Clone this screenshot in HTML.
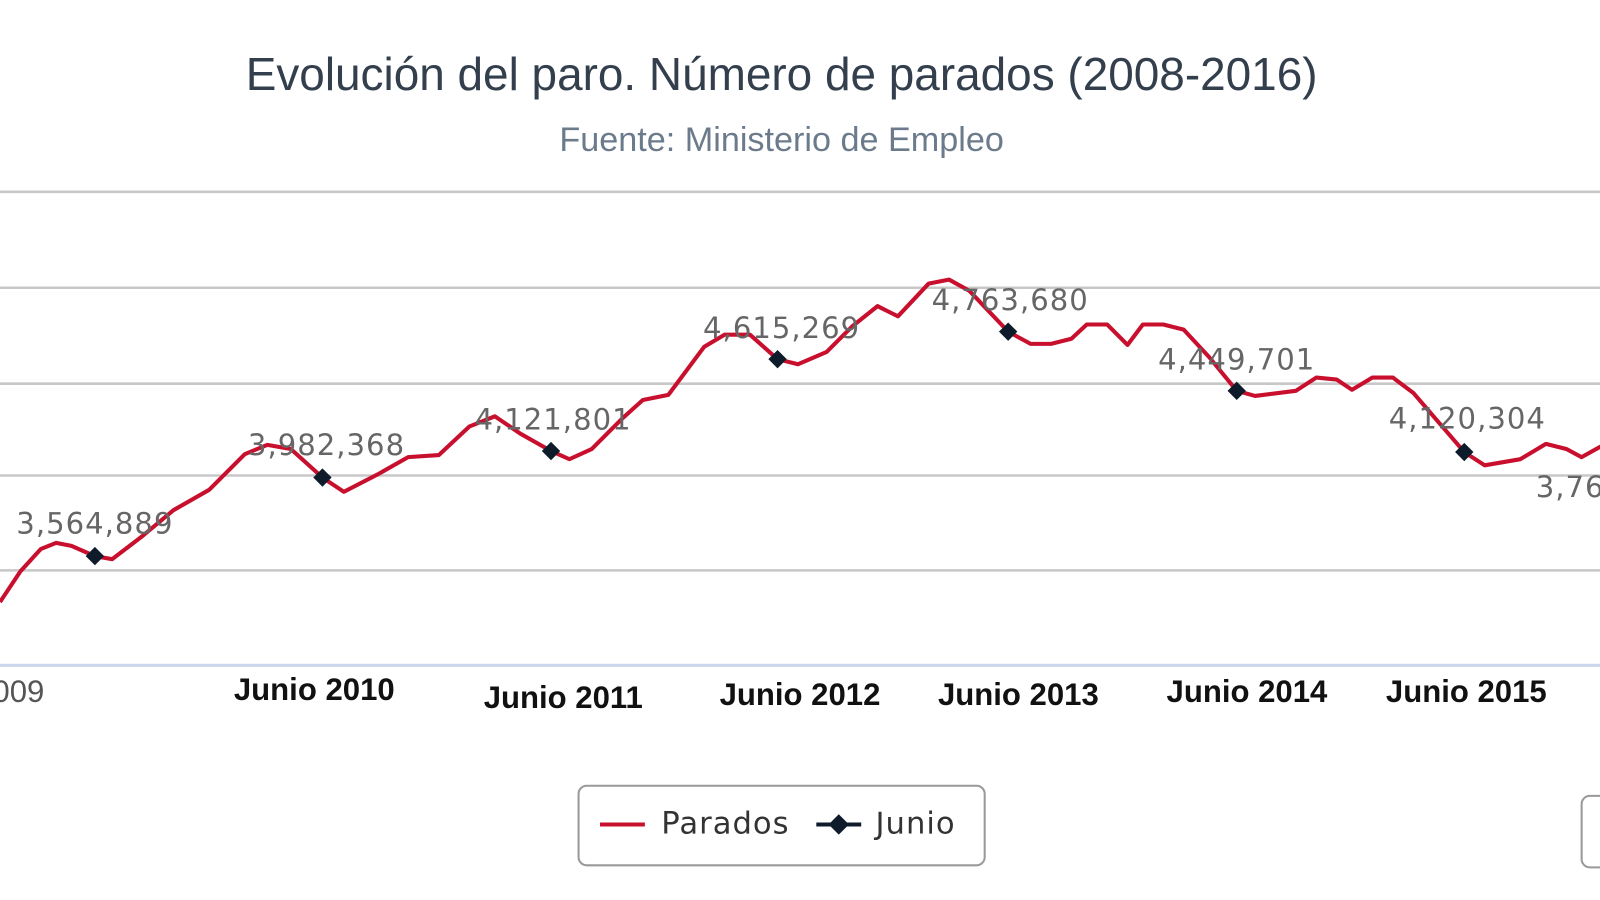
<!DOCTYPE html>
<html><head><meta charset="utf-8"><style>
html,body{margin:0;padding:0;background:#fff;width:1600px;height:900px;overflow:hidden}
</style></head><body>
<svg width="1600" height="900" xmlns="http://www.w3.org/2000/svg" font-family="Liberation Sans, sans-serif">
<rect width="1600" height="900" fill="#fff"/>
<g transform="scale(1.0204)">
<text x="766" y="88" text-anchor="middle" font-size="45" fill="#333f4d">Evolución del paro. Número de parados (2008-2016)</text>
<text x="766" y="148" text-anchor="middle" font-size="33.5" fill="#6b7b8c">Fuente: Ministerio de Empleo</text>
<g stroke="#c8c8c8" stroke-width="2.5">
<line x1="0" y1="188" x2="1600" y2="188"/>
<line x1="0" y1="282" x2="1600" y2="282"/>
<line x1="0" y1="376" x2="1600" y2="376"/>
<line x1="0" y1="466" x2="1600" y2="466"/>
<line x1="0" y1="559" x2="1600" y2="559"/>
<line x1="0" y1="652" x2="1600" y2="652" stroke="#ccd6eb" stroke-width="3"/>
</g>
<g stroke="#ccd6eb" stroke-width="2" id="ticks"></g>
<path fill="none" stroke="#c8102e" stroke-width="4" stroke-linejoin="round" d="M0,590 L20,560 L40,538 L55,532 L70,535 L93,545 L110,548 L140,525 L170,500 L205,480 L240,445 L262,436 L285,440 L316,468 L337,482 L370,465 L400,448 L430,446 L460,418 L485,408 L510,425 L540,442 L558,450 L580,440 L610,410 L630,392 L655,387 L690,340 L710,328 L735,328 L762,352 L782,357 L810,345 L835,320 L860,300 L880,310 L910,278 L930,274 L950,285 L988,325 L1010,337 L1030,337 L1050,332 L1065,318 L1085,318 L1105,338 L1120,318 L1140,318 L1160,323 L1185,350 L1212,383 L1230,388 L1270,383 L1290,370 L1310,372 L1325,382 L1345,370 L1365,370 L1385,385 L1435,443 L1455,456 L1490,450 L1515,435 L1535,440 L1550,448 L1568,438 L1600,432"/>
<g fill="#0d1b2a">
<path d="M93,536 l9,9 -9,9 -9,-9z"/>
<path d="M316,459 l9,9 -9,9 -9,-9z"/>
<path d="M540,433 l9,9 -9,9 -9,-9z"/>
<path d="M762,343 l9,9 -9,9 -9,-9z"/>
<path d="M988,316 l9,9 -9,9 -9,-9z"/>
<path d="M1212,374 l9,9 -9,9 -9,-9z"/>
<path d="M1435,434 l9,9 -9,9 -9,-9z"/>
</g>
<g font-family="DejaVu Sans, sans-serif" font-size="28.5" fill="#666" text-anchor="middle" letter-spacing="1">
<text x="93" y="523">3,564,889</text>
<text x="320" y="446">3,982,368</text>
<text x="542" y="421">4,121,801</text>
<text x="766" y="331">4,615,269</text>
<text x="990" y="304">4,763,680</text>
<text x="1212" y="362">4,449,701</text>
<text x="1438" y="420">4,120,304</text>
<text x="1505" y="487" text-anchor="start">3,76</text>
</g>
<g font-size="30.5" font-weight="bold" fill="#111" text-anchor="middle">
<text x="18" y="688" fill="#555" font-weight="normal">009</text>
<text x="308" y="686">Junio 2010</text>
<text x="552" y="694">Junio 2011</text>
<text x="784" y="691">Junio 2012</text>
<text x="998" y="691">Junio 2013</text>
<text x="1222" y="688">Junio 2014</text>
<text x="1437" y="688">Junio 2015</text>
</g>
<rect x="567" y="770" width="398" height="78" rx="8" fill="#fff" stroke="#999" stroke-width="2"/>
<line x1="588" y1="808" x2="632" y2="808" stroke="#c8102e" stroke-width="4"/>
<text x="648" y="817" font-family="DejaVu Sans, sans-serif" font-size="30" fill="#333" letter-spacing="1">Parados</text>
<line x1="800" y1="808" x2="844" y2="808" stroke="#0d1b2a" stroke-width="4"/>
<path d="M822,798 l10,10 -10,10 -10,-10z" fill="#0d1b2a"/>
<text x="858" y="817" font-family="DejaVu Sans, sans-serif" font-size="30" fill="#333" letter-spacing="1">Junio</text>
<rect x="1550" y="780" width="60" height="70" rx="8" fill="#fff" stroke="#999" stroke-width="2"/>
</g>
<script>
var g=document.getElementById('ticks'),s='';
for(var x=5;x<1600;x+=18.6){s+='<line x1="'+x+'" y1="652" x2="'+x+'" y2="662"/>';}
g.innerHTML=s;
</script>
</svg>
</body></html>
